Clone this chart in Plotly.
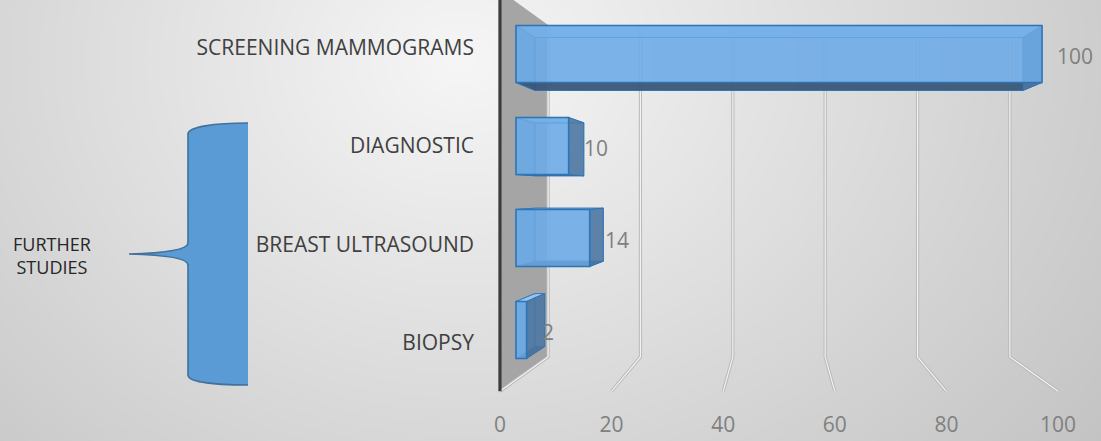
import base64
import struct
import zlib

import numpy as np
import plotly.graph_objects as go

# ---------------- data ----------------
categories = ["BIOPSY", "BREAST ULTRASOUND", "DIAGNOSTIC", "SCREENING MAMMOGRAMS"]  # bottom -> top
values = [2, 14, 10, 100]
x_ticks = [0, 20, 40, 60, 80, 100]
group_label = "FURTHER<br>STUDIES"

# ---------------- layout constants ----------------
W, H = 1101, 441
FONT = "Open Sans"

# front plane of the bars: value 0 -> px 516, value 100 -> px 1042
X0_PX, X100_PX = 516.0, 1042.0
PX_PER_X = (X100_PX - X0_PX) / 100.0
XR = [-X0_PX / PX_PER_X, (W - X0_PX) / PX_PER_X]
# rows: index 3 -> px 54, index 0 -> px 330
Y_TOP_PX, Y_BOT_PX = 54.0, 330.0
PX_PER_Y = (Y_BOT_PX - Y_TOP_PX) / 3.0
YR = [-(H - Y_BOT_PX) / PX_PER_Y, 3 + Y_TOP_PX / PX_PER_Y]

# perspective (in data units of the front plane)
VX, VY = 50.0, 1.5
K_BAR_BACK = 0.928
K_WALL = 0.878
K_FRONT = 1.061
K_LABEL = 1.07
LABEL_DROP_PX = 3.0
FLOOR = -0.542
TOP = 3.567
BAR_W = 0.62


def proj(v, y, k):
    return VX + (v - VX) * k, VY + (y - VY) * k


def path(points, close=True):
    s = "M " + " L ".join(f"{x:.4f},{y:.4f}" for x, y in points)
    return s + (" Z" if close else "")


# ---------------- background gradient image ----------------
def make_bg():
    xs = np.arange(W)[None, :].astype(float)
    ys = np.arange(H)[:, None].astype(float)
    cx, cy = 460.0, 60.0
    dx = np.where(xs < cx, (xs - cx) / 600.0, (xs - cx) / 640.0)
    dy = (ys - cy) / 500.0
    d = np.sqrt(dx ** 2 + dy ** 2)
    b = 246.0 - 40.0 * d
    return np.clip(b, 0, 255).astype(np.uint8)


def png_gray(arr):
    h, w = arr.shape
    raw = b"".join(b"\x00" + arr[r].tobytes() for r in range(h))

    def chunk(t, d):
        c = struct.pack(">I", len(d)) + t + d
        return c + struct.pack(">I", zlib.crc32(t + d) & 0xFFFFFFFF)

    ihdr = struct.pack(">IIBBBBB", w, h, 8, 0, 0, 0, 0)
    return (b"\x89PNG\r\n\x1a\n" + chunk(b"IHDR", ihdr)
            + chunk(b"IDAT", zlib.compress(raw, 9)) + chunk(b"IEND", b""))


bg_uri = "data:image/png;base64," + base64.b64encode(png_gray(make_bg())).decode()

shapes = []

# ---------------- left wall ----------------
wall = [proj(0, FLOOR, K_WALL), proj(0, TOP, K_WALL), proj(0, TOP, K_FRONT), proj(0, FLOOR, K_FRONT)]
shapes.append(dict(type="path", xref="x", yref="y", path=path(wall), fillcolor="#a5a5a5",
                   line=dict(width=0), layer="below"))


# ---------------- gridlines (3D double lines) ----------------
def grid_line(pts):
    for col, w in (("#b9b9b9", 3.2), ("#f3f3f3", 1.2)):
        shapes.append(dict(type="path", xref="x", yref="y", path=path(pts, close=False),
                           line=dict(color=col, width=w), fillcolor="rgba(0,0,0,0)", layer="below"))


for t in x_ticks:
    grid_line([proj(t, TOP, K_WALL), proj(t, FLOOR, K_WALL), proj(t, FLOOR, K_FRONT)])

# dark front axis line of the wall
shapes.append(dict(type="line", xref="x", yref="y",
                   x0=proj(0, FLOOR, K_FRONT)[0], y0=proj(0, FLOOR, K_FRONT)[1],
                   x1=proj(0, TOP + 1, K_FRONT)[0], y1=proj(0, TOP + 1, K_FRONT)[1],
                   line=dict(color="#3c3c3c", width=3.2), layer="below"))

# ---------------- 3D bar faces (behind the front face) ----------------
EDGE = "rgba(46,117,182,0.85)"
for i, v in enumerate(values):
    y0, y1 = i - BAR_W / 2, i + BAR_W / 2
    f00, f10, f11, f01 = (0, y0), (v, y0), (v, y1), (0, y1)
    b00, b10, b11, b01 = (proj(0, y0, K_BAR_BACK), proj(v, y0, K_BAR_BACK),
                          proj(v, y1, K_BAR_BACK), proj(0, y1, K_BAR_BACK))
    faces = [
        ([b00, b10, b11, b01], "rgba(110,170,230,0.30)"),  # back
        ([f00, f01, b01, b00], "rgba(100,160,220,0.50)"),  # left
        ([f01, f11, b11, b01], "rgba(160,208,250,0.75)"),  # top
        ([f00, f10, b10, b00], "rgba(55,85,115,0.92)"),    # bottom
        ([f10, f11, b11, b10], "rgba(78,118,160,0.88)"),   # right
    ]
    for pts, col in faces:
        shapes.append(dict(type="path", xref="x", yref="y", path=path(pts), fillcolor=col,
                           line=dict(color=EDGE, width=1), layer="below"))


# ---------------- brace (annotation graphic) ----------------
def pp(x, y):
    return f"{x / W:.5f},{1 - y / H:.5f}"


brace_body = (f"M {pp(248,123)} C {pp(214,123)} {pp(188,127)} {pp(188,134)} "
              f"L {pp(188,243)} C {pp(188,250)} {pp(165,253)} {pp(129,254)} "
              f"C {pp(165,255)} {pp(188,258)} {pp(188,265)} "
              f"L {pp(188,375)} C {pp(188,382)} {pp(214,385)} {pp(248,385)}")
shapes.append(dict(type="path", xref="paper", yref="paper", path=brace_body + " Z",
                   fillcolor="#5b9bd5", line=dict(width=0), layer="above"))
shapes.append(dict(type="path", xref="paper", yref="paper", path=brace_body,
                   fillcolor="rgba(0,0,0,0)", line=dict(color="#41719c", width=1.6), layer="above"))

# ---------------- traces ----------------
fig = go.Figure()
fig.add_trace(go.Bar(
    x=values, y=list(range(len(categories))), orientation="h", width=BAR_W,
    marker=dict(color="rgba(108,170,230,0.84)", line=dict(color="#2e75b6", width=1.5)),
    hoverinfo="skip", showlegend=False,
))
# helper trace for the label axes (perspective-shifted axes)
fig.add_trace(go.Scatter(x=[x_ticks[0], x_ticks[-1]], y=[0, len(categories) - 1],
                         xaxis="x2", yaxis="y2", mode="markers",
                         marker=dict(opacity=0), hoverinfo="skip", showlegend=False))

annotations = []
for i, v in enumerate(values):
    annotations.append(dict(x=v, y=i, xref="x", yref="y", text=str(v), showarrow=False,
                            xanchor="left", yanchor="middle", xshift=13, yshift=-2,
                            font=dict(family=FONT, size=21, color="#7f7f7f")))
annotations.append(dict(x=52 / W, y=1 - 255 / H, xref="paper", yref="paper", text=group_label,
                        showarrow=False, xanchor="center", yanchor="middle", align="center",
                        font=dict(family=FONT, size=18, color="#262626")))

x2_range = [VX + (XR[0] - VX) / K_FRONT, VX + (XR[1] - VX) / K_FRONT]
drop = LABEL_DROP_PX / PX_PER_Y / K_LABEL
y2_range = [VY + (YR[0] - VY) / K_LABEL + drop, VY + (YR[1] - VY) / K_LABEL + drop]

fig.update_layout(
    width=W, height=H, autosize=False,
    margin=dict(l=0, r=0, t=0, b=0, pad=0),
    paper_bgcolor="#e0e0e0", plot_bgcolor="rgba(0,0,0,0)",
    font=dict(family=FONT),
    xaxis=dict(range=XR, visible=False, fixedrange=True),
    yaxis=dict(range=YR, visible=False, fixedrange=True),
    xaxis2=dict(range=x2_range, overlaying="x", anchor="free", position=(H - 410) / H,
                tickvals=x_ticks, ticktext=[str(t) for t in x_ticks], ticks="",
                showline=False, showgrid=False, zeroline=False,
                tickfont=dict(family=FONT, size=21, color="#808080"), fixedrange=True),
    yaxis2=dict(range=y2_range, overlaying="y", anchor="free", position=474 / W, side="left",
                tickvals=list(range(len(categories))), ticktext=categories, ticks="",
                showline=False, showgrid=False, zeroline=False,
                tickfont=dict(family=FONT, size=21, color="#404040"), fixedrange=True),
    shapes=shapes,
    annotations=annotations,
    images=[dict(source=bg_uri, xref="paper", yref="paper", x=0, y=1, sizex=1, sizey=1,
                 sizing="stretch", layer="below", xanchor="left", yanchor="top")],
    showlegend=False,
)

fig.write_html("out.html", config={"displayModeBar": False},
               post_script="document.body.style.margin='0';document.body.style.padding='0';")
